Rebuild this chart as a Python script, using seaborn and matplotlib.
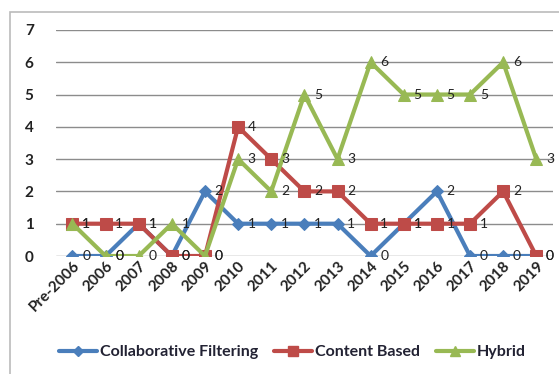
import matplotlib
matplotlib.use("Agg")
import matplotlib.pyplot as plt
from matplotlib.patches import Rectangle
from matplotlib.lines import Line2D
import seaborn as sns
import pandas as pd

years = ["Pre-2006", "2006", "2007", "2008", "2009", "2010", "2011", "2012",
         "2013", "2014", "2015", "2016", "2017", "2018", "2019"]
collaborative = [0, 0, 1, 0, 2, 1, 1, 1, 1, 0, 1, 2, 0, 0, 0]
content_based = [1, 1, 1, 0, 0, 4, 3, 2, 2, 1, 1, 1, 1, 2, 0]
hybrid = [1, 0, 0, 1, 0, 3, 2, 5, 3, 6, 5, 5, 5, 6, 3]

series_names = ["Collaborative Filtering", "Content Based", "Hybrid"]
series_values = [collaborative, content_based, hybrid]
colors = {"Collaborative Filtering": "#4A7EBB",
          "Content Based": "#BE4B48",
          "Hybrid": "#98B954"}
markers = {"Collaborative Filtering": "D",
           "Content Based": "s",
           "Hybrid": "^"}
marker_sizes = {"Collaborative Filtering": 6,
                "Content Based": 8,
                "Hybrid": 8}

rows = []
for name, vals in zip(series_names, series_values):
    for i, (yr, v) in enumerate(zip(years, vals)):
        rows.append({"pos": i, "year": yr, "series": name, "count": v})
df = pd.DataFrame(rows)

sns.set_theme(style="white")
plt.rcParams["font.family"] = ["Lato", "DejaVu Sans"]

fig = plt.figure(figsize=(5.59, 3.74), dpi=100)
ax = fig.add_axes([0.100, 0.3155, 0.889, 0.6045])

# outer chart frame
fig.patches.append(Rectangle((10 / 559, -0.05), 1.2, 1 - 12 / 374 + 0.05,
                             transform=fig.transFigure, fill=False,
                             edgecolor="#BBBBBB", linewidth=1.2, zorder=0))

for name in series_names:
    sub = df[df["series"] == name]
    sns.lineplot(data=sub, x="pos", y="count", ax=ax, color=colors[name],
                 marker=markers[name], markersize=marker_sizes[name],
                 markeredgecolor=colors[name], linewidth=3.0, legend=False,
                 zorder=3)
    for _, r in sub.iterrows():
        ax.annotate(str(r["count"]), (r["pos"], r["count"]),
                    xytext=(7, 0), textcoords="offset points",
                    ha="left", va="center", fontsize=10, color="#222222",
                    zorder=4)

ax.set_xlim(-0.5, 14.5)
ax.set_ylim(0, 7)
ax.set_yticks(range(0, 8))
ax.set_xticks(range(len(years)))
ax.set_xticklabels(years, rotation=45, ha="right", rotation_mode="anchor",
                   fontsize=11, fontweight="bold", color="#222222")
for lbl in ax.get_yticklabels():
    lbl.set_fontsize(11)
    lbl.set_fontweight("bold")
    lbl.set_color("#222222")
ax.tick_params(axis="y", pad=16, length=0)
ax.tick_params(axis="x", pad=2, length=0)
ax.set_xlabel("")
ax.set_ylabel("")
for s in ax.spines.values():
    s.set_visible(False)
ax.yaxis.grid(True, color="#8C8C8C", linewidth=1.0)
ax.set_axisbelow(True)
ax.patch.set_alpha(0)

handles = [Line2D([0], [0], color=colors[n], marker=markers[n],
                  markersize=marker_sizes[n] - 1, linewidth=3.0)
           for n in series_names]
leg = fig.legend(handles, series_names, loc="center",
                 bbox_to_anchor=(0.523, 0.058), ncol=3, frameon=False,
                 handlelength=2.4, handletextpad=0.15, columnspacing=1.0,
                 prop={"weight": "bold", "size": 11.5})
for t in leg.get_texts():
    t.set_color("#222233")

fig.savefig("out.png", dpi=100)
